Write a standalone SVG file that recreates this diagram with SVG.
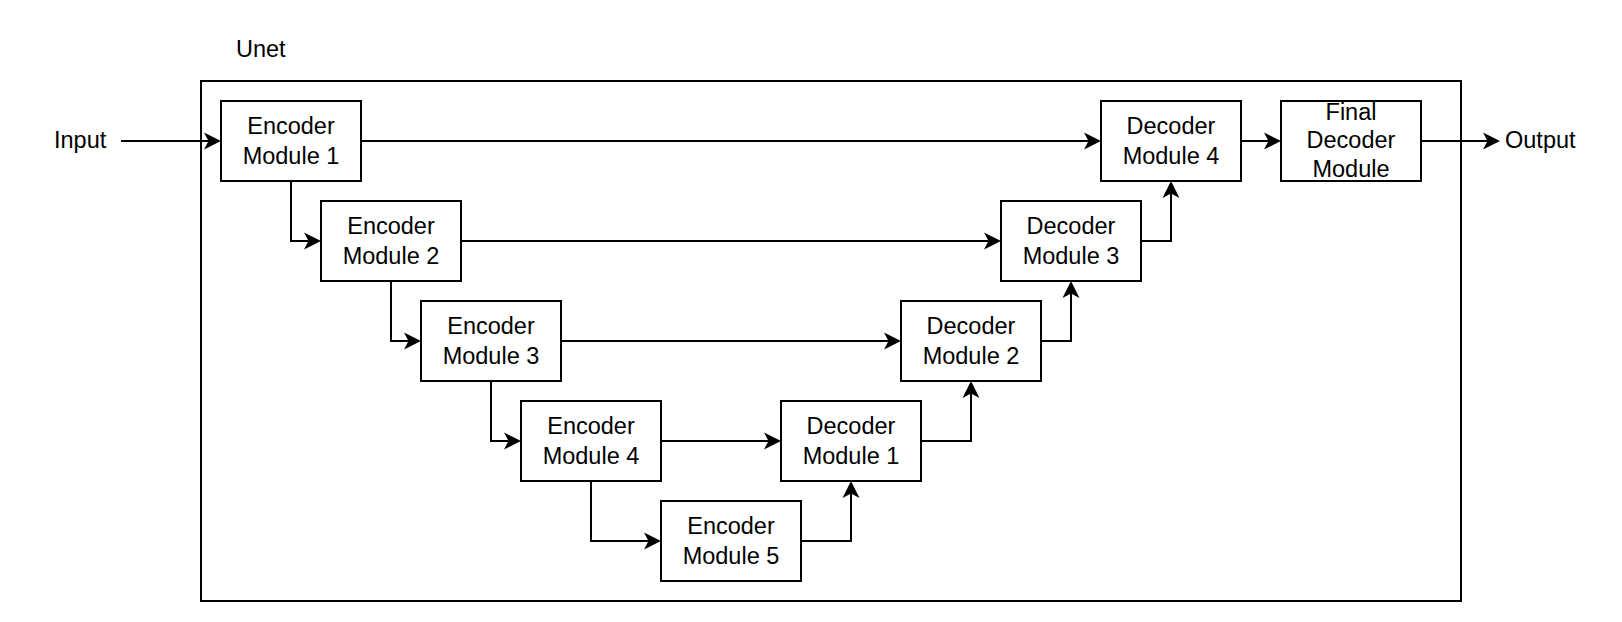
<svg xmlns="http://www.w3.org/2000/svg" width="1622" height="622" viewBox="0 0 1622 622">
  <style>
    .frame { fill: #ffffff; stroke: #000000; stroke-width: 2; }
    .box { fill: #ffffff; stroke: #000000; stroke-width: 2; }
    .conn { fill: none; stroke: #000000; stroke-width: 2; }
    .lbl { font-family: "Liberation Sans", Arial, Helvetica, sans-serif; font-size: 23.5px; fill: #000000; text-anchor: middle; }
    .free { font-family: "Liberation Sans", Arial, Helvetica, sans-serif; font-size: 23.5px; fill: #000000; }
  </style>
  <defs>
    <marker id="arrow" markerUnits="userSpaceOnUse" markerWidth="18" markerHeight="18" viewBox="0 0 18 18" refX="13" refY="9" orient="auto">
      <path d="M0,0.5 L17,9 L0,17.5 L4.5,9 Z" fill="#000000"/>
    </marker>
  </defs>
  <rect width="1622" height="622" fill="#ffffff"/>

  <g id="unet">
    <rect class="frame" x="201" y="81" width="1260" height="520"/>
    <text class="free" x="236" y="57">Unet</text>
  </g>

  <g id="input-label"><text class="free" x="54" y="148">Input</text></g>
  <g id="output-label"><text class="free" x="1505" y="148">Output</text></g>

  <g id="enc1">
    <rect class="box" x="221" y="101" width="140" height="80"/>
    <text class="lbl" x="291" y="133.5">Encoder</text>
    <text class="lbl" x="291" y="163.5">Module 1</text>
  </g>
  <g id="enc2">
    <rect class="box" x="321" y="201" width="140" height="80"/>
    <text class="lbl" x="391" y="233.5">Encoder</text>
    <text class="lbl" x="391" y="263.5">Module 2</text>
  </g>
  <g id="enc3">
    <rect class="box" x="421" y="301" width="140" height="80"/>
    <text class="lbl" x="491" y="333.5">Encoder</text>
    <text class="lbl" x="491" y="363.5">Module 3</text>
  </g>
  <g id="enc4">
    <rect class="box" x="521" y="401" width="140" height="80"/>
    <text class="lbl" x="591" y="433.5">Encoder</text>
    <text class="lbl" x="591" y="463.5">Module 4</text>
  </g>
  <g id="enc5">
    <rect class="box" x="661" y="501" width="140" height="80"/>
    <text class="lbl" x="731" y="533.5">Encoder</text>
    <text class="lbl" x="731" y="563.5">Module 5</text>
  </g>
  <g id="dec1">
    <rect class="box" x="781" y="401" width="140" height="80"/>
    <text class="lbl" x="851" y="433.5">Decoder</text>
    <text class="lbl" x="851" y="463.5">Module 1</text>
  </g>
  <g id="dec2">
    <rect class="box" x="901" y="301" width="140" height="80"/>
    <text class="lbl" x="971" y="333.5">Decoder</text>
    <text class="lbl" x="971" y="363.5">Module 2</text>
  </g>
  <g id="dec3">
    <rect class="box" x="1001" y="201" width="140" height="80"/>
    <text class="lbl" x="1071" y="233.5">Decoder</text>
    <text class="lbl" x="1071" y="263.5">Module 3</text>
  </g>
  <g id="dec4">
    <rect class="box" x="1101" y="101" width="140" height="80"/>
    <text class="lbl" x="1171" y="133.5">Decoder</text>
    <text class="lbl" x="1171" y="163.5">Module 4</text>
  </g>
  <g id="final">
    <rect class="box" x="1281" y="101" width="140" height="80"/>
    <text class="lbl" x="1351" y="119.5">Final</text>
    <text class="lbl" x="1351" y="148">Decoder</text>
    <text class="lbl" x="1351" y="176.5">Module</text>
  </g>

  <g id="connectors">
    <path class="conn" d="M121,141 H217" marker-end="url(#arrow)"/>
    <path class="conn" d="M361,141 H1097" marker-end="url(#arrow)"/>
    <path class="conn" d="M1241,141 H1277" marker-end="url(#arrow)"/>
    <path class="conn" d="M1421,141 H1496" marker-end="url(#arrow)"/>
    <path class="conn" d="M291,181 V241 H317" marker-end="url(#arrow)"/>
    <path class="conn" d="M461,241 H997" marker-end="url(#arrow)"/>
    <path class="conn" d="M391,281 V341 H417" marker-end="url(#arrow)"/>
    <path class="conn" d="M561,341 H897" marker-end="url(#arrow)"/>
    <path class="conn" d="M491,381 V441 H517" marker-end="url(#arrow)"/>
    <path class="conn" d="M661,441 H777" marker-end="url(#arrow)"/>
    <path class="conn" d="M591,481 V541 H657" marker-end="url(#arrow)"/>
    <path class="conn" d="M801,541 H851 V485" marker-end="url(#arrow)"/>
    <path class="conn" d="M921,441 H971 V385" marker-end="url(#arrow)"/>
    <path class="conn" d="M1041,341 H1071 V285" marker-end="url(#arrow)"/>
    <path class="conn" d="M1141,241 H1171 V185" marker-end="url(#arrow)"/>
  </g>
</svg>
